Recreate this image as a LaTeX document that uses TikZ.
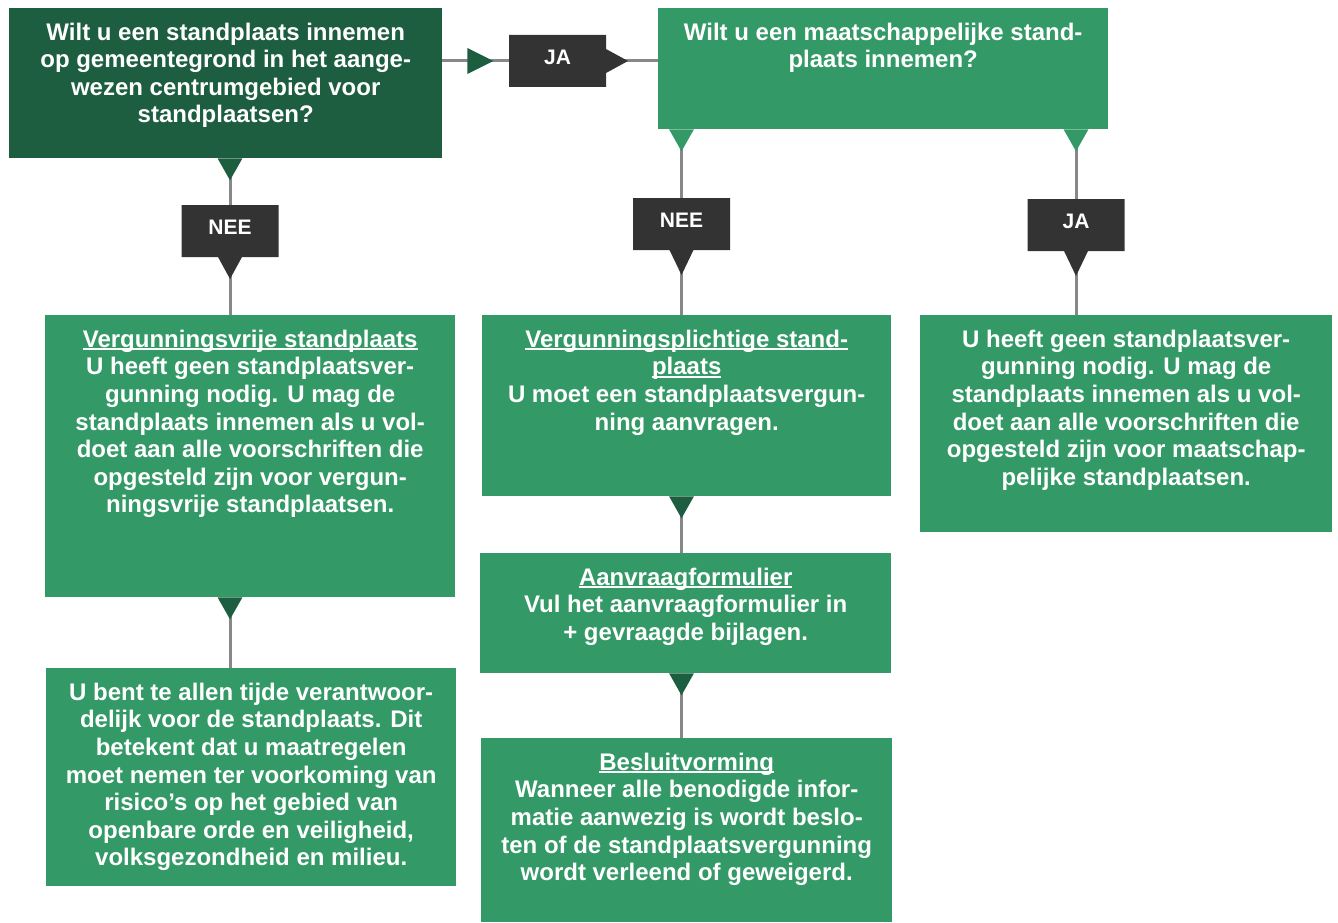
\documentclass[tikz,border=0pt]{standalone}
\usepackage{fontspec}
\setmainfont{Liberation Sans}
\usetikzlibrary{arrows.meta,shapes.callouts,backgrounds}
\definecolor{donkergroen}{RGB}{30,94,64}
\definecolor{groen}{RGB}{51,153,102}
\definecolor{labelgrijs}{RGB}{51,51,51}
\definecolor{lijngrijs}{RGB}{136,136,136}
\newcommand{\onderstreep}[1]{\leavevmode\setbox0=\hbox{#1}\rlap{\rule[-3pt]{\wd0}{2pt}}\box0}
\newcommand{\vaktekst}[3]{\parbox[t][#2][t]{#1}{\centering\rule{0pt}{32pt}#3}}
\tikzset{
  vak/.style={fill=groen, text=white, inner sep=0pt, anchor=north west,
    font=\bfseries\fontsize{24}{27.6}\selectfont},
  keuze/.style={rectangle callout, fill=labelgrijs, text=white, inner sep=0pt,
    minimum width=97pt, text height=29.5pt, text depth=22.5pt,
    callout pointer width=24pt, font=\bfseries\fontsize{21}{24}\selectfont},
  verbinding/.style={draw=lijngrijs, line width=3pt},
  vanaf/.style={{Triangle[reversed, length=22pt, width=24pt, color=#1]}-},
  vanaf/.default=donkergroen
}

\begin{document}
\begin{tikzpicture}[x=1pt, y=-1pt]
\useasboundingbox (0,0) rectangle (1338,923);

% vragen
\node[vak, fill=donkergroen] (q1) at (9,8) {\vaktekst{433pt}{150pt}{Wilt u een standplaats innemen\\
  op gemeentegrond in het aange-\\ wezen centrumgebied voor\\ standplaatsen?}};
\node[vak] (q2) at (658,8) {\vaktekst{450pt}{121pt}{Wilt u een maatschappelijke stand-\\ plaats innemen?}};

% uitkomsten
\node[vak] (vrij) at (45,315) {\vaktekst{410pt}{282pt}{\onderstreep{Vergunningsvrije standplaats}\\
  U heeft geen standplaatsver-\\ gunning nodig. U mag de\\ standplaats innemen als u vol-\\
  doet aan alle voorschriften die\\ opgesteld zijn voor vergun-\\ ningsvrije standplaatsen.}};
\node[vak] (bent) at (46,668) {\vaktekst{410pt}{218pt}{U bent te allen tijde verantwoor-\\
  delijk voor de standplaats. Dit\\ betekent dat u maatregelen\\ moet nemen ter voorkoming van\\
  risico’s op het gebied van\\ openbare orde en veiligheid,\\ volksgezondheid en milieu.}};
\node[vak] (plicht) at (482,315) {\vaktekst{409pt}{181pt}{\onderstreep{Vergunningsplichtige stand-}\\
  \onderstreep{plaats}\\ U moet een standplaatsvergun-\\ ning aanvragen.}};
\node[vak] (aanvraag) at (480,553) {\vaktekst{411pt}{120pt}{\onderstreep{Aanvraagformulier}\\
  Vul het aanvraagformulier in\\ + gevraagde bijlagen.}};
\node[vak] (besluit) at (481,738) {\vaktekst{411pt}{184pt}{\onderstreep{Besluitvorming}\\
  Wanneer alle benodigde infor-\\ matie aanwezig is wordt beslo-\\
  ten of de standplaatsvergunning\\ wordt verleend of geweigerd.}};
\node[vak] (rechts) at (920,315) {\vaktekst{412pt}{217pt}{U heeft geen standplaatsver-\\
  gunning nodig. U mag de\\ standplaats innemen als u vol-\\ doet aan alle voorschriften die\\
  opgesteld zijn voor maatschap-\\ pelijke standplaatsen.}};

% keuzes
\node[keuze, callout absolute pointer={(628,61)}] (ja1) at (557.5,61) {JA};
\node[keuze, callout absolute pointer={(230,279)}] (nee1) at (230,231) {NEE};
\node[keuze, callout absolute pointer={(681.5,275)}] (nee2) at (681.5,224) {NEE};
\node[keuze, callout absolute pointer={(1076,276)}] (ja2) at (1076,225) {JA};

\fill[donkergroen] (q1.east |- ja1) ++(25,-13) -- ++(26,13) -- ++(-26,13) -- cycle;

\begin{scope}[on background layer]
\draw[verbinding] (q1.east |- ja1) -- (q2.west |- ja1);
\draw[verbinding, vanaf] (q1.south -| nee1) -- (vrij.north -| nee1);
\draw[verbinding, vanaf] (vrij.south -| nee1) -- (bent.north -| nee1);
\draw[verbinding, vanaf=groen] (q2.south -| nee2) -- (plicht.north -| nee2);
\draw[verbinding, vanaf] (plicht.south -| nee2) -- (aanvraag.north -| nee2);
\draw[verbinding, vanaf] (aanvraag.south -| nee2) -- (besluit.north -| nee2);
\draw[verbinding, vanaf=groen] (q2.south -| ja2) -- (rechts.north -| ja2);
\end{scope}
\end{tikzpicture}
\end{document}
